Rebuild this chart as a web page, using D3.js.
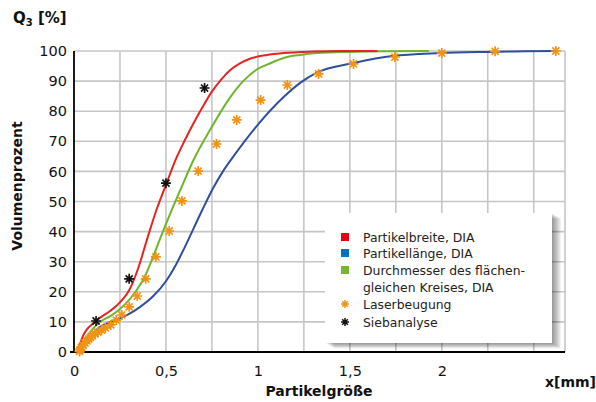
<!DOCTYPE html>
<html><head><meta charset="utf-8">
<script src="https://cdn.jsdelivr.net/npm/d3@7"></script>
<style>
html,body{margin:0;padding:0;background:#fff;}
svg{display:block;font-family:"DejaVu Sans",Verdana,sans-serif;}
</style></head>
<body><svg id="c" width="596" height="402"></svg>
<script>
// ---- data ----
const redX = [0.02,0.035,0.05,0.07,0.1,0.14,0.2,0.25,0.3,0.35,0.4,0.45,0.5,0.55,0.6,0.65,0.7,0.75,0.8,0.85,0.9,0.96,1.05,1.14,1.3,1.45,1.65];
const redY = [0,3,5.5,7.5,9.3,11.3,13.8,16.5,20.5,28,38,47.5,55.5,63.5,70,76,81.5,86.5,90.5,93.7,95.8,97.5,98.7,99.3,99.8,100,100];
const greenX = [0.03,0.06,0.1,0.14,0.2,0.25,0.3,0.34,0.38,0.43,0.48,0.53,0.576,0.65,0.74,0.85,0.92,0.99,1.07,1.14,1.23,1.32,1.5,1.7,1.93];
const greenY = [0,4,7.5,10,12,14.3,17.3,20.5,24.5,31.6,39.5,47,53.5,63.8,73.8,84.7,90,93.7,96,97.7,98.7,99.3,99.7,99.9,100];
const blueX = [0.03,0.06,0.1,0.14,0.2,0.29,0.36,0.43,0.5,0.55,0.6,0.65,0.7,0.757,0.81,0.865,0.99,1.14,1.23,1.32,1.52,1.73,1.99,2.24,2.45,2.62];
const blueY = [0,3,6,8.3,10,12.3,15,18.5,23.5,28.5,34.5,41,47.5,54.5,60,64.8,74.8,84.7,89.4,92.8,96,98.3,99.3,99.7,99.9,100];
const laserX = [0.03,0.035,0.04,0.05,0.06,0.07,0.08,0.09,0.1,0.115,0.13,0.15,0.17,0.2,0.23,0.26,0.30,0.344,0.39,0.445,0.518,0.587,0.675,0.775,0.885,1.015,1.16,1.33,1.52,1.745,2.0,2.29,2.62];
const laserY = [0.2,0.8,1.5,2.2,3,3.7,4.3,4.9,5.4,6,6.6,7.3,8,9,10.6,12.3,15,18.6,24.3,31.6,40.2,50.2,60.1,69.1,77.1,83.7,88.7,92.4,95.7,98,99.3,99.9,100];
const sieveX = [0.12,0.30,0.5,0.71];
const sieveY = [10.3,24.3,56.1,87.7];
const yTicks = [0,10,20,30,40,50,60,70,80,90,100];
const xTicks = [0,0.5,1,1.5,2];
const xGrid = [0.25,0.5,0.75,1,1.25,1.5,1.75,2,2.25,2.5];
const legendLabels = [["Partikelbreite, DIA"],["Partikellänge, DIA"],["Durchmesser des flächen-","gleichen Kreises, DIA"],["Laserbeugung"],["Siebanalyse"]];
const xMax = 2.67;

const svg = d3.select("#c");
const L = 74, R = 565, T = 51, B = 352;
const x = d3.scaleLinear().domain([0, xMax]).range([L, R]);
const y = d3.scaleLinear().domain([0, 100]).range([B, T]);

const gridC = "#c6c6c6";
// grid
svg.append("g").selectAll("line").data(yTicks.slice(1)).join("line")
  .attr("x1", L).attr("x2", R).attr("y1", d=>y(d)).attr("y2", d=>y(d))
  .attr("stroke", gridC).attr("stroke-width", 1.6);
svg.append("g").selectAll("line").data(xGrid.concat([xMax])).join("line")
  .attr("x1", d=>x(d)).attr("x2", d=>x(d)).attr("y1", T).attr("y2", B)
  .attr("stroke", gridC).attr("stroke-width", 1.6);

// axes
const yAxis = d3.axisLeft(y).tickValues(yTicks).tickSize(0).tickPadding(7).tickFormat(d3.format("d"));
const gy = svg.append("g").attr("transform", `translate(${L},0)`).call(yAxis);
gy.select(".domain").remove();
gy.selectAll("text").attr("font-size", 14.5).attr("fill", "#111").attr("font-family", "DejaVu Sans, sans-serif");
const xAxis = d3.axisBottom(x).tickValues(xTicks).tickSize(0).tickPadding(14)
  .tickFormat(d => d3.format("~g")(d).replace(".", ","));
const gx = svg.append("g").attr("transform", `translate(0,${B})`).call(xAxis);
gx.select(".domain").remove();
gx.selectAll("text").attr("font-size", 14.5).attr("fill", "#111").attr("font-family", "DejaVu Sans, sans-serif");

svg.append("line").attr("x1", L).attr("x2", L).attr("y1", T).attr("y2", B + 1).attr("stroke", "#000").attr("stroke-width", 1.8);
svg.append("line").attr("x1", L - 4).attr("x2", R).attr("y1", B).attr("y2", B).attr("stroke", "#000").attr("stroke-width", 1.8);

// curves
const line = d3.line().x(d=>x(d[0])).y(d=>y(d[1])).curve(d3.curveMonotoneX);
function curve(xs, ys, color) {
  svg.append("path").datum(xs.map((v,i)=>[v, ys[i]])).attr("d", line)
    .attr("fill", "none").attr("stroke", color).attr("stroke-width", 2).attr("stroke-linejoin", "round");
}
curve(blueX, blueY, "#2f4f9c");
curve(greenX, greenY, "#6fb52c");
curve(redX, redY, "#e52421");

// star markers
function starPath(r) {
  const p = [];
  for (let k = 0; k < 4; k++) {
    const a = k * Math.PI / 4;
    p.push(`M${-r*Math.cos(a)},${-r*Math.sin(a)}L${r*Math.cos(a)},${r*Math.sin(a)}`);
  }
  return p.join("");
}
svg.append("g").selectAll("path").data(laserX.map((v,i)=>[v, laserY[i]])).join("path")
  .attr("transform", d=>`translate(${x(d[0])},${y(d[1])})`)
  .attr("d", starPath(5)).attr("stroke", "#f39314").attr("stroke-width", 1.7).attr("fill", "none");
svg.append("g").selectAll("path").data(sieveX.map((v,i)=>[v, sieveY[i]])).join("path")
  .attr("transform", d=>`translate(${x(d[0])},${y(d[1])})`)
  .attr("d", starPath(5)).attr("stroke", "#111").attr("stroke-width", 1.7).attr("fill", "none");

// legend
const lg = svg.append("g");
const lx = 325, ly = 213, lw = 227, lh = 130;
for (let i = 9; i >= 1; i--) {
  lg.append("rect").attr("x", lx + i).attr("y", ly + i * 0.6).attr("width", lw).attr("height", lh)
    .attr("fill", "#000").attr("opacity", 0.05);
}
lg.append("rect").attr("x", lx).attr("y", ly).attr("width", lw).attr("height", lh).attr("fill", "#fff");
const rowsY = [237, 253, 270, 304, 322];
const colors = ["#e30613", "#0070c0", "#76b82a"];
legendLabels.forEach((lab, i) => {
  const cy = rowsY[i];
  if (i < 3) {
    lg.append("rect").attr("x", 341).attr("y", cy - 4).attr("width", 8).attr("height", 8).attr("fill", colors[i]);
  } else {
    lg.append("path").attr("transform", `translate(345,${cy})`).attr("d", starPath(4))
      .attr("stroke", i === 3 ? "#f39314" : "#111").attr("stroke-width", 1.5);
  }
  lab.forEach((t, j) => {
    lg.append("text").attr("x", 363).attr("y", cy + 4.5 + j * 17).attr("font-size", 12.4).attr("fill", "#222").text(t);
  });
});

// titles
svg.append("text").attr("x", 13).attr("y", 23).attr("font-size", 15).attr("font-weight", "bold").attr("fill", "#111")
  .html('Q<tspan font-size="10" dy="3">3</tspan><tspan dy="-3"> [%]</tspan>');
svg.append("text").attr("transform", "translate(22,186) rotate(-90)").attr("text-anchor", "middle")
  .attr("font-size", 14).attr("font-weight", "bold").attr("fill", "#111").text("Volumenprozent");
svg.append("text").attr("x", 319).attr("y", 396).attr("text-anchor", "middle")
  .attr("font-size", 14).attr("font-weight", "bold").attr("fill", "#111").text("Partikelgröße");
svg.append("text").attr("x", 596).attr("y", 387).attr("text-anchor", "end")
  .attr("font-size", 14).attr("font-weight", "bold").attr("fill", "#111").text("x[mm]");
</script></body></html>
